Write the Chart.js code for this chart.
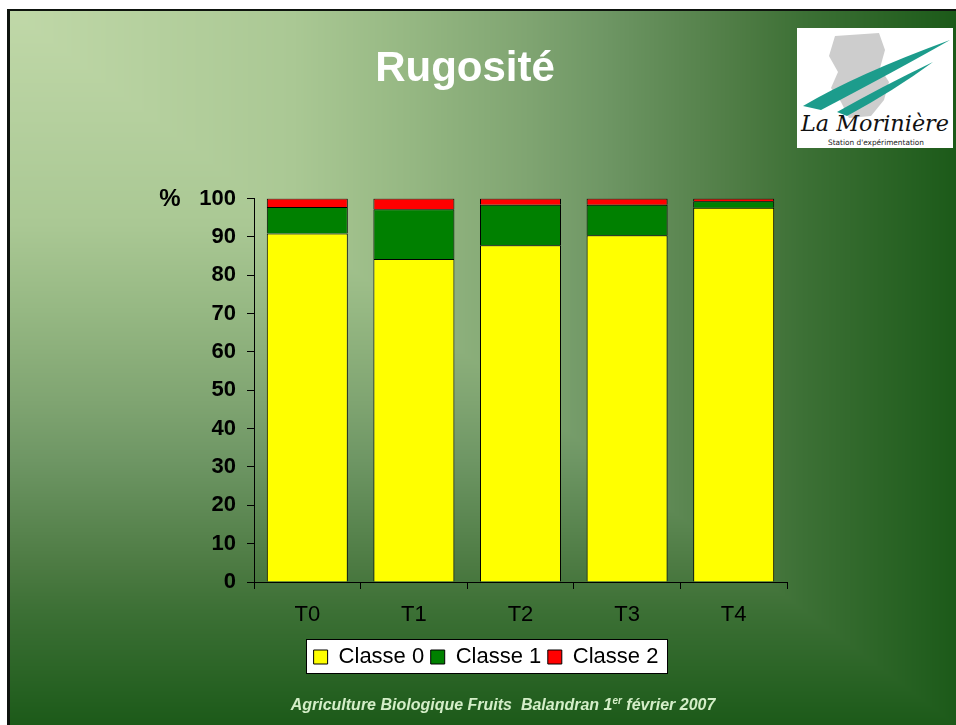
<!DOCTYPE html>
<html><head><meta charset="utf-8">
<script src="https://cdn.jsdelivr.net/npm/chart.js@4.4.1/dist/chart.umd.min.js"></script>
<style>
html,body{margin:0;padding:0;width:956px;height:725px;overflow:hidden;background:#fff;font-family:"Liberation Sans",Arial,sans-serif;}
#bg{position:absolute;left:0;top:0;}
#title{position:absolute;left:265px;width:400px;top:46px;line-height:42px;text-align:center;color:#fff;font-weight:bold;font-size:42px;white-space:nowrap;}
#chart{position:absolute;left:150px;top:0;}
#footer{position:absolute;left:203px;width:600px;top:697px;line-height:16px;text-align:center;color:#d4eec8;font-style:italic;font-weight:bold;font-size:16px;white-space:nowrap;}
#footer sup{font-size:10px;vertical-align:6px;line-height:0;}
#logo{position:absolute;left:797px;top:28px;}
</style></head>
<body>
<canvas id="bg" width="956" height="725"></canvas>
<div id="title">Rugosité</div>
<svg id="logo" width="156" height="120" viewBox="0 0 156 120">
  <rect width="156" height="120" fill="#fff"/>
  <path d="M38 8 L82 5 L88 22 L83 40 L92 54 L87 72 L74 88 L52 90 L44 74 L34 60 L41 44 L32 28 Z" fill="#cdcdcd"/>
  <path d="M6 78 Q60 46 153 12 Q104 40 24 82 Z" fill="#1c9c8c"/>
  <path d="M40 84 Q86 58 136 34 Q98 62 50 88 Z" fill="#1c9c8c"/>
  <text x="4" y="103" font-family="DejaVu Serif" font-style="italic" font-size="22" textLength="148" lengthAdjust="spacingAndGlyphs" fill="#111">La Morinière</text>
  <text x="31" y="117" font-family="DejaVu Sans" font-size="7.5" textLength="96" lengthAdjust="spacingAndGlyphs" fill="#222">Station d'expérimentation</text>
</svg>
<canvas id="chart" width="640" height="725"></canvas>
<div id="footer">Agriculture Biologique Fruits&nbsp; Balandran 1<sup>er</sup> février 2007</div>
<script>
// ---- data ----
const categories = ['T0', 'T1', 'T2', 'T3', 'T4'];
const seriesNames = ['Classe 0', 'Classe 1', 'Classe 2'];
const classe0 = [90.9, 84.2, 87.8, 90.4, 97.6];
const classe1 = [6.9, 13.0, 10.6, 8.0, 1.7];
const classe2 = [2.2, 2.8, 1.6, 1.6, 0.7];
const yTickValues = [0, 10, 20, 30, 40, 50, 60, 70, 80, 90, 100];
const yUnitLabel = '%';

// ---- background (corner gradient) ----
(function () {
  const c = document.getElementById('bg');
  const ctx = c.getContext('2d');
  const W = c.width, H = c.height;
  const img = ctx.createImageData(W, H);
  const stops = [
    [0.0, 192, 216, 168],
    [0.3, 170, 200, 148],
    [0.42, 150, 184, 131],
    [0.55, 127, 164, 113],
    [0.63, 110, 150, 100],
    [0.78, 76, 122, 66],
    [0.84, 60, 112, 53],
    [1.0, 28, 90, 25]
  ];
  function col(t) {
    if (t <= 0) return stops[0].slice(1);
    for (let i = 1; i < stops.length; i++) {
      if (t <= stops[i][0]) {
        const a = stops[i - 1], b = stops[i];
        const f = (t - a[0]) / (b[0] - a[0]);
        return [a[1] + (b[1] - a[1]) * f, a[2] + (b[2] - a[2]) * f, a[3] + (b[3] - a[3]) * f];
      }
    }
    return stops[stops.length - 1].slice(1);
  }
  for (let y = 0; y < H; y++) {
    for (let x = 0; x < W; x++) {
      const i = (y * W + x) * 4;
      let r, g, b;
      if (x < 7 || y < 9) { r = g = b = 255; }
      else if (x < 10 || y < 11) { r = 14; g = 20; b = 14; }
      else {
        const t = Math.max((x - 8) / 948, (y - 9) / 716);
        [r, g, b] = col(t);
      }
      img.data[i] = r; img.data[i + 1] = g; img.data[i + 2] = b; img.data[i + 3] = 255;
    }
  }
  ctx.putImageData(img, 0, 0);
})();

// ---- plugins ----
const legendBoxPlugin = {
  id: 'legendBox',
  beforeDraw(chart) {
    const lg = chart.legend;
    if (!lg || !lg.legendHitBoxes || !lg.legendHitBoxes.length) return;
    const hb = lg.legendHitBoxes;
    const left = Math.min(...hb.map(h => h.left)) - 8;
    const right = Math.max(...hb.map(h => h.left + h.width)) + 8;
    const top = Math.min(...hb.map(h => h.top)) - 7;
    const bottom = Math.max(...hb.map(h => h.top + h.height)) + 5;
    const ctx = chart.ctx;
    ctx.save();
    ctx.fillStyle = '#ffffff';
    ctx.fillRect(Math.round(left) + 0.5, Math.round(top) + 0.5, Math.round(right - left), Math.round(bottom - top));
    ctx.strokeStyle = '#000';
    ctx.lineWidth = 1;
    ctx.strokeRect(Math.round(left) + 0.5, Math.round(top) + 0.5, Math.round(right - left), Math.round(bottom - top));
    ctx.restore();
  }
};
const unitPlugin = {
  id: 'unitLabel',
  afterDraw(chart) {
    const y = chart.scales.y.getPixelForValue(100);
    const ctx = chart.ctx;
    ctx.save();
    ctx.font = 'bold 24px "Liberation Sans", Arial, sans-serif';
    ctx.fillStyle = '#000';
    ctx.textAlign = 'center';
    ctx.textBaseline = 'middle';
    ctx.fillText(yUnitLabel, 20, y + 1);
    ctx.restore();
  }
};

const colors = ['#FFFF00', '#008000', '#FF0000'];
const seriesData = [classe0, classe1, classe2];

new Chart(document.getElementById('chart'), {
  type: 'bar',
  data: {
    labels: categories,
    datasets: seriesNames.map((n, i) => ({
      label: n,
      data: seriesData[i],
      backgroundColor: colors[i],
      borderColor: '#000',
      borderWidth: 1,
      barPercentage: 0.76,
      categoryPercentage: 1
    }))
  },
  options: {
    responsive: false,
    animation: false,
    layout: { padding: { left: 35, right: 3, top: 198.5, bottom: 47 } },
    plugins: {
      tooltip: { enabled: false },
      title: { display: false },
      legend: {
        position: 'bottom',
        labels: {
          color: '#000',
          font: { family: '"Liberation Sans", Arial, sans-serif', size: 22 },
          boxWidth: 14,
          boxHeight: 14,
          padding: 6.5
        }
      }
    },
    scales: {
      x: {
        stacked: true,
        afterFit(s) { s.height = 57.5; },
        grid: { display: true, drawOnChartArea: false, offset: true, tickLength: 7, color: '#000', tickColor: '#000' },
        border: { display: true, color: '#000', width: 1 },
        ticks: { color: '#000', padding: 13, font: { family: '"Liberation Sans", Arial, sans-serif', size: 22 } }
      },
      y: {
        stacked: true,
        min: 0,
        max: 100,
        afterFit(s) { s.width = 69; },
        afterBuildTicks(s) { s.ticks = yTickValues.map(v => ({ value: v })); },
        grid: { display: true, drawOnChartArea: false, tickLength: 7, color: '#000', tickColor: '#000' },
        border: { display: true, color: '#000', width: 1 },
        ticks: { color: '#000', padding: 11, font: { family: '"Liberation Sans", Arial, sans-serif', size: 22, weight: 'bold' } }
      }
    }
  },
  plugins: [legendBoxPlugin, unitPlugin]
});
</script>
</body></html>
